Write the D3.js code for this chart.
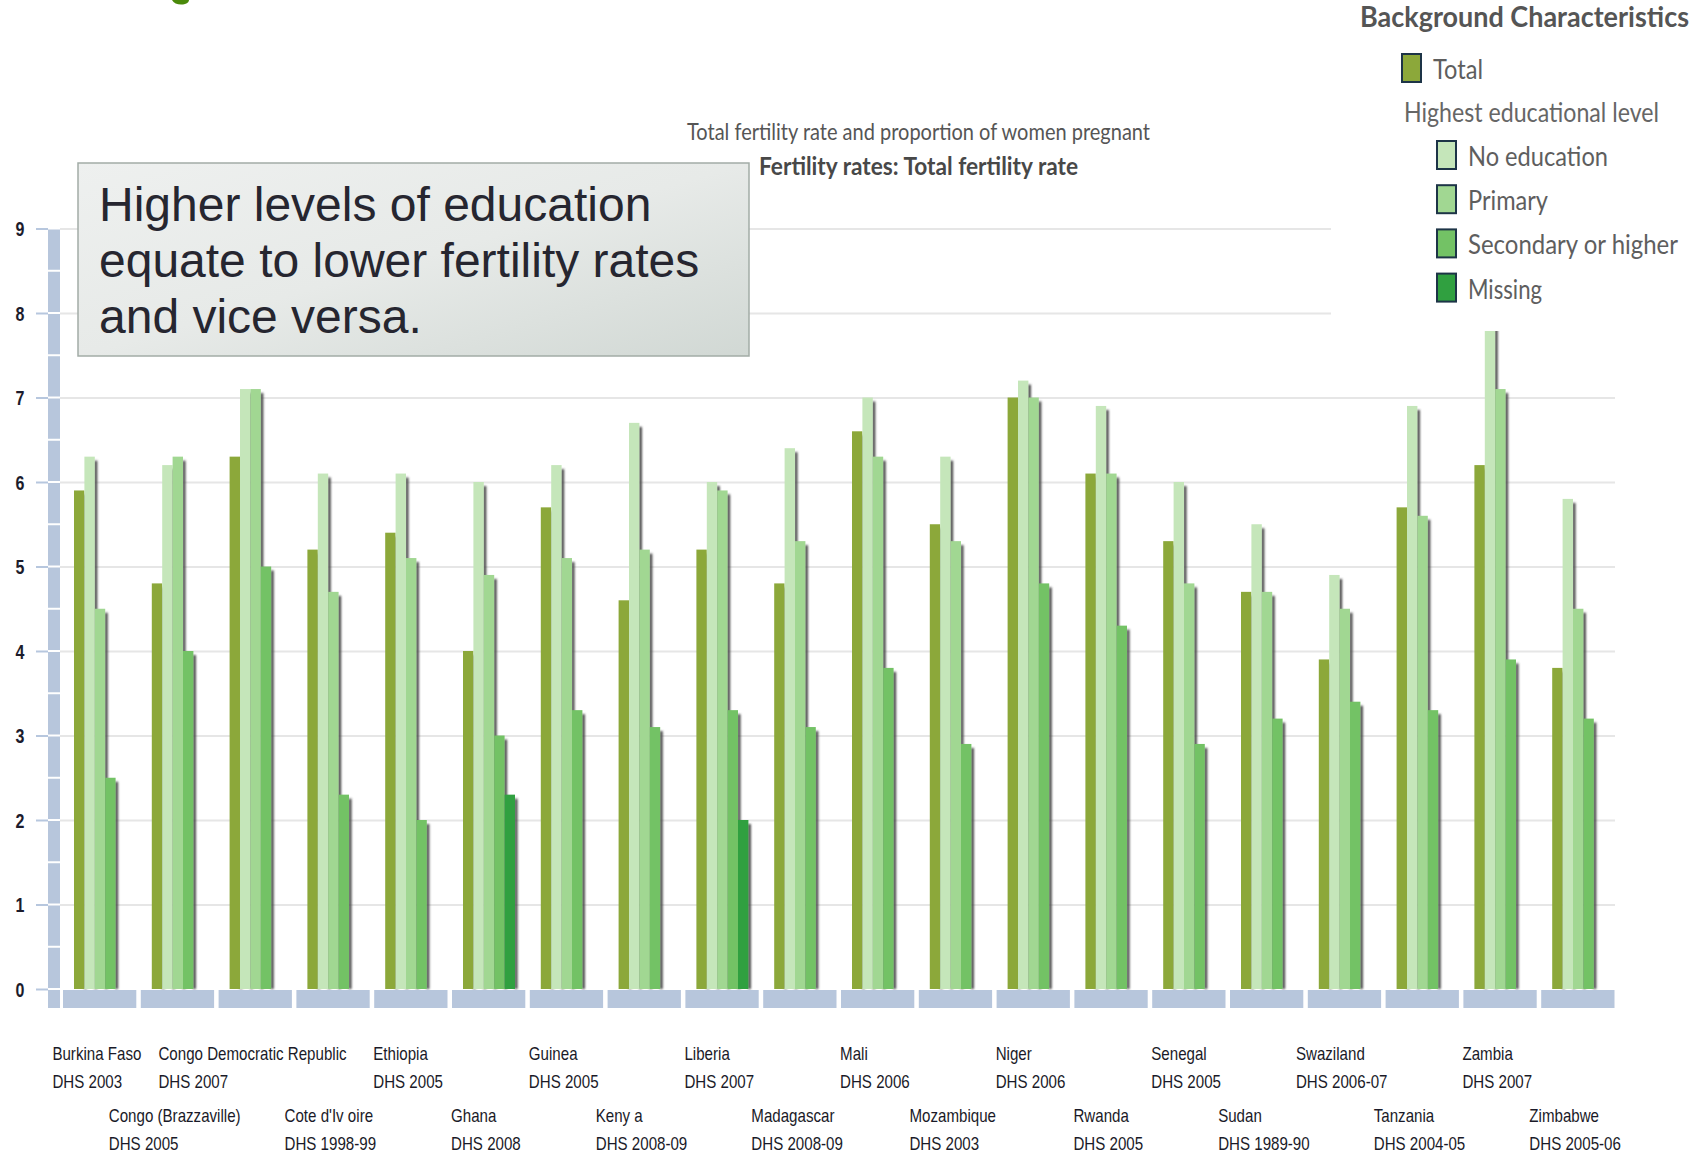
<!DOCTYPE html>
<html><head><meta charset="utf-8">
<script src="https://cdn.jsdelivr.net/npm/d3@7"></script>
<style>body{margin:0;background:#fff}svg{display:block}</style>
</head><body>
<svg id="chart" width="1704" height="1155"></svg>
<script>
const categories = ["Burkina Faso","Congo (Brazzaville)","Congo Democratic Republic","Cote d'Ivoire","Ethiopia","Ghana","Guinea","Kenya","Liberia","Madagascar","Mali","Mozambique","Niger","Rwanda","Senegal","Sudan","Swaziland","Tanzania","Zambia","Zimbabwe"];
const categoryLabels = ["Burkina Faso","Congo (Brazzaville)","Congo Democratic Republic","Cote d'Iv oire","Ethiopia","Ghana","Guinea","Keny a","Liberia","Madagascar","Mali","Mozambique","Niger","Rwanda","Senegal","Sudan","Swaziland","Tanzania","Zambia","Zimbabwe"];
const surveys = ["DHS 2003","DHS 2005","DHS 2007","DHS 1998-99","DHS 2005","DHS 2008","DHS 2005","DHS 2008-09","DHS 2007","DHS 2008-09","DHS 2006","DHS 2003","DHS 2006","DHS 2005","DHS 2005","DHS 1989-90","DHS 2006-07","DHS 2004-05","DHS 2007","DHS 2005-06"];
const seriesNames = ["Total","No education","Primary","Secondary or higher","Missing"];
const total       = [5.9,4.8,6.3,5.2,5.4,4.0,5.7,4.6,5.2,4.8,6.6,5.5,7.0,6.1,5.3,4.7,3.9,5.7,6.2,3.8];
const noEducation = [6.3,6.2,7.1,6.1,6.1,6.0,6.2,6.7,6.0,6.4,7.0,6.3,7.2,6.9,6.0,5.5,4.9,6.9,8.2,5.8];
const primary     = [4.5,6.3,7.1,4.7,5.1,4.9,5.1,5.2,5.9,5.3,6.3,5.3,7.0,6.1,4.8,4.7,4.5,5.6,7.1,4.5];
const secondary   = [2.5,4.0,5.0,2.3,2.0,3.0,3.3,3.1,3.3,3.1,3.8,2.9,4.8,4.3,2.9,3.2,3.4,3.3,3.9,3.2];
const missing     = [null,null,null,null,null,2.3,null,null,2.0,null,null,null,null,null,null,null,null,null,null,null];
const yTicks = [0,1,2,3,4,5,6,7,8,9];
const seriesColors = ["#8ca83a","#c5e6ba","#a1d792","#73c265","#30a040"];
const titleText = "Total fertility rate and proportion of women pregnant";
const subtitleText = "Fertility rates: Total fertility rate";
const legendTitle = "Background Characteristics";
const legendGroupLabel = "Highest educational level";
const noteLines = ["Higher levels of education","equate to lower fertility rates","and vice versa."];

const seriesValues = [total, noEducation, primary, secondary, missing];
const rows = categories.map((c,i)=>({category:c, label:categoryLabels[i], survey:surveys[i], index:i,
  values: seriesNames.map((s,k)=>({key:s, k, value:seriesValues[k][i]})).filter(d=>d.value!=null)}));

const svg = d3.select("#chart");
const defs = svg.append("defs");
defs.append("filter").attr("id","sh").attr("x","-2").attr("width","5")
  .append("feGaussianBlur").attr("stdDeviation",0.9);
const grad = defs.append("linearGradient").attr("id","boxg").attr("x1",0).attr("y1",0).attr("x2",1).attr("y2",1);
grad.append("stop").attr("offset",0).attr("stop-color","#eef0ef");
grad.append("stop").attr("offset",0.5).attr("stop-color","#e7eae8");
grad.append("stop").attr("offset",1).attr("stop-color","#d1d8d4");

const y = d3.scaleLinear().domain([0,9]).range([989,228.5]);
const x0 = d3.scaleBand().domain(categories).range([63,1619]);
const x1 = d3.scaleBand().domain(seriesNames).range([11,63]);
const bw = x1.bandwidth();

// tail of a cut-off heading glyph above the page edge
svg.append("path").attr("d","M172,0 C174,4 180,5.5 185,4 C188,3 189,1.5 189,0 Z").attr("fill","#4a8a0a");

// gridlines
const grid = svg.append("g").attr("transform","translate(60,0)")
  .call(d3.axisLeft(y).tickValues(yTicks.slice(1)).tickSize(-(1615-60)).tickFormat(""));
grid.select(".domain").remove();
grid.selectAll("line").attr("stroke","#e6e6e6").attr("stroke-width",2);

// bars
const groups = svg.append("g").selectAll("g").data(rows).join("g")
  .attr("transform",d=>`translate(${x0(d.category)},0)`);
groups.each(function(d){
  const g = d3.select(this);
  d.values.forEach(v=>{
    g.append("rect").attr("x",x1(v.key)+bw-0.5).attr("y",y(v.value)+4)
      .attr("width",3).attr("height",y(0)-y(v.value)-4).attr("fill","#474747").attr("filter","url(#sh)");
    g.append("rect").attr("x",x1(v.key)).attr("y",y(v.value))
      .attr("width",bw).attr("height",y(0)-y(v.value)).attr("fill",seriesColors[v.k]);
  });
});

// left axis band
const halfSteps = d3.range(0,9,0.5);
svg.append("g").selectAll("rect").data(halfSteps).join("rect")
  .attr("x",48).attr("width",12)
  .attr("y",d=>y(d+0.5)+1).attr("height",d=>y(d)-y(d+0.5)-2).attr("fill","#b7c6dc");
// bottom band
svg.append("rect").attr("x",48).attr("y",990).attr("width",12).attr("height",18).attr("fill","#b7c6dc");
svg.append("g").selectAll("rect").data(categories).join("rect")
  .attr("x",d=>x0(d)).attr("y",990).attr("width",x0.bandwidth()-4.5).attr("height",18).attr("fill","#b7c6dc");

// y axis ticks & labels
const ax = svg.append("g").attr("transform","translate(48,0)")
  .call(d3.axisLeft(y).tickValues(yTicks).tickSize(12).tickFormat(d3.format("d")));
ax.select(".domain").remove();
ax.selectAll("line").attr("stroke","#b7c7de").attr("stroke-width",2);
ax.selectAll("text").attr("x",0).attr("text-anchor","middle")
  .attr("transform","translate(-28,1) scale(0.8,1)")
  .attr("font-family","Liberation Sans, Arial, sans-serif").attr("font-weight","bold")
  .attr("font-size",20).attr("fill","#1c1c2c");

// category labels
const lab = svg.append("g").attr("font-family","Liberation Sans, Arial, sans-serif").attr("font-size",18).attr("fill","#1a1a28");
rows.forEach(d=>{
  const base = d.index%2===0 ? 1060 : 1122;
  const outer = lab.append("g");
  const inner = outer.append("g").attr("transform","scale(0.84,1)");
  const t1 = inner.append("text").attr("x",0).attr("y",base).text(d.label);
  const t2 = inner.append("text").attr("x",0).attr("y",base+28).text(d.survey);
  const w = Math.max(t1.node().getComputedTextLength(), t2.node().getComputedTextLength())*0.84;
  const cx = x0(d.category)+x0.bandwidth()/2;
  outer.attr("transform",`translate(${cx-w/2-5},0)`);
});

// titles
const gill = "Lato, 'Open Sans', sans-serif";
svg.append("text").attr("x",687).attr("y",140).attr("font-family",gill).attr("font-size",24).attr("fill","#555")
  .attr("textLength",463).attr("lengthAdjust","spacingAndGlyphs").text(titleText);
svg.append("text").attr("x",759).attr("y",175).attr("font-family",gill).attr("font-weight","bold").attr("font-size",24).attr("fill","#484848")
  .attr("textLength",319).attr("lengthAdjust","spacingAndGlyphs").text(subtitleText);

// legend
svg.append("rect").attr("x",1331).attr("y",0).attr("width",373).attr("height",331).attr("fill","#fff");
const lg = svg.append("g").attr("font-family",gill).attr("fill","#5a5a5a");
lg.append("text").attr("x",1360).attr("y",27).attr("font-weight","bold").attr("font-size",28).attr("fill","#555")
  .attr("textLength",329).attr("lengthAdjust","spacingAndGlyphs").text(legendTitle);
lg.append("text").attr("x",1404).attr("y",122).attr("font-size",27).attr("fill","#666")
  .attr("textLength",255).attr("lengthAdjust","spacingAndGlyphs").text(legendGroupLabel);
const legendItems = seriesNames.map((s,k)=>({name:s,k,
  sx: k===0 ? 1402 : 1437, sy: k===0 ? 54 : 141 + (k-1)*44.2,
  tw: [50,140,80,210,74][k]}));
legendItems.forEach(it=>{
  lg.append("rect").attr("x",it.sx).attr("y",it.sy).attr("width",19).attr("height",28)
    .attr("fill",seriesColors[it.k]).attr("stroke","#1d3447").attr("stroke-width",2);
  lg.append("text").attr("x",it.sx+31).attr("y",it.sy+25).attr("font-size",27).attr("fill","#5e5e5e")
    .attr("textLength",it.tw).attr("lengthAdjust","spacingAndGlyphs").text(it.name);
});

// note box
svg.append("rect").attr("x",78).attr("y",163).attr("width",671).attr("height",193)
  .attr("fill","url(#boxg)").attr("stroke","#a2aca6").attr("stroke-width",1.5);
svg.append("g").selectAll("text").data(noteLines).join("text")
  .attr("x",99).attr("y",(d,i)=>221+i*56).attr("font-family","Liberation Sans, Arial, sans-serif")
  .attr("font-size",48).attr("fill","#262630").text(d=>d);
</script>
</body></html>
